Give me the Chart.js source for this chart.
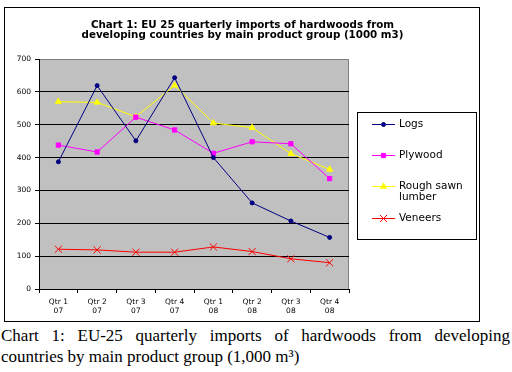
<!DOCTYPE html>
<html>
<head>
<meta charset="utf-8">
<script src="https://cdn.jsdelivr.net/npm/chart.js@4/dist/chart.umd.min.js"></script>
<style>
  body { margin: 0; background: #fff; width: 512px; height: 372px; position: relative; overflow: hidden; }
  #box { position: absolute; left: 4px; top: 7px; width: 474px; height: 313px; border: 1px solid #000; }
  #chart { display: block; }
  .cap { position: absolute; left: 1px; width: 509px; font-family: "Liberation Serif", "Times New Roman", serif; font-size: 17px; color: #000; white-space: nowrap; }
  #cap1 { top: 326px; text-align: justify; text-align-last: justify; white-space: normal; }
  #cap2 { top: 347px; }
</style>
</head>
<body>
<div id="box"><canvas id="chart" width="474" height="313"></canvas></div>
<div class="cap" id="cap1">Chart 1: EU-25 quarterly imports of hardwoods from developing</div>
<div class="cap" id="cap2">countries by main product group (1,000 m³)</div>
<script>
// chart data
const categories = [['Qtr 1', '07'], ['Qtr 2', '07'], ['Qtr 3', '07'], ['Qtr 4', '07'],
                    ['Qtr 1', '08'], ['Qtr 2', '08'], ['Qtr 3', '08'], ['Qtr 4', '08']];
const logs = [387, 619, 451, 643, 400, 262, 207, 157];
const plywood = [438, 417, 523, 484, 413, 448, 442, 336];
const roughSawn = [570, 568, 524, 620, 505, 491, 412, 364];
const veneers = [121, 119, 112, 112, 128, 114, 92, 80];
const yMin = 0, yMax = 700, yStep = 100;
const titleLines = ['Chart 1: EU 25 quarterly imports of hardwoods from',
                    'developing countries by main product group (1000 m3)'];

const font = 'DejaVu Sans';

function series(label, data, color, style, radius) {
    return {
        label, data,
        borderColor: color, backgroundColor: color,
        borderWidth: 1, pointStyle: style, pointRadius: radius,
        pointBorderWidth: 1,
        tension: 0
    };
}

// grey plot area + border
const plotBg = {
    id: 'plotBg',
    beforeDraw(chart) {
        const { ctx, chartArea: a } = chart;
        ctx.save();
        ctx.fillStyle = '#C0C0C0';
        ctx.fillRect(a.left, a.top, a.right - a.left, a.bottom - a.top);
        ctx.strokeStyle = '#808080';
        ctx.lineWidth = 1;
        ctx.beginPath();
        ctx.moveTo(a.left, a.top + 0.5);
        ctx.lineTo(a.right - 0.5, a.top + 0.5);
        ctx.lineTo(a.right - 0.5, a.bottom);
        ctx.stroke();
        ctx.restore();
    }
};

// title and boxed legend
const extras = {
    id: 'extras',
    afterDraw(chart) {
        const ctx = chart.ctx;
        ctx.save();
        ctx.fillStyle = '#000';
        ctx.textAlign = 'center';
        ctx.textBaseline = 'middle';
        ctx.font = 'bold 10.3px ' + font;
        ctx.fillText(titleLines[0], 237.5, 17);
        ctx.fillText(titleLines[1], 237.5, 27.5);

        ctx.strokeStyle = '#000';
        ctx.lineWidth = 1;
        ctx.strokeRect(352.5, 104.5, 119, 127);

        const rows = [116, 147, 178, 210];
        ctx.textAlign = 'left';
        ctx.font = '10.5px ' + font;
        chart.data.datasets.forEach((ds, i) => {
            const y = rows[i];
            ctx.strokeStyle = ds.borderColor;
            ctx.fillStyle = ds.backgroundColor;
            ctx.beginPath();
            ctx.moveTo(367, y + 0.5);
            ctx.lineTo(390, y + 0.5);
            ctx.stroke();
            Chart.helpers.drawPoint(ctx, { pointStyle: ds.pointStyle, radius: ds.pointRadius, rotation: 0, borderWidth: 1 }, 378.5, y + 0.5);
            ctx.fillStyle = '#000';
            const parts = ds.label.split('\n');
            parts.forEach((p, j) => ctx.fillText(p, 394, y + j * 11));
        });
        ctx.restore();
    }
};

new Chart(document.getElementById('chart'), {
    type: 'line',
    data: {
        labels: categories,
        datasets: [
            series('Logs', logs, '#000080', 'circle', 2),
            series('Plywood', plywood, '#FF00FF', 'rect', 3),
            series('Rough sawn\nlumber', roughSawn, '#FFFF00', 'triangle', 3.5),
            series('Veneers', veneers, '#FF0000', 'crossRot', 5)
        ]
    },
    options: {
        responsive: false,
        animation: false,
        layout: { padding: { top: 51, right: 130, left: 0, bottom: 0 } },
        plugins: { legend: { display: false }, title: { display: false }, tooltip: { enabled: false } },
        scales: {
            x: {
                offset: true,
                grid: { drawOnChartArea: false, offset: true, color: '#000', tickLength: 4 },
                border: { color: '#000' },
                ticks: { color: '#000', font: { family: font, size: 7.5 }, padding: 5, maxRotation: 0, autoSkip: false },
                afterFit(s) { s.height = 32; }
            },
            y: {
                min: yMin, max: yMax,
                grid: { color: ctx => ctx.tick && ctx.tick.value === yMax ? '#808080' : '#000', tickColor: '#000', tickLength: 4 },
                border: { color: '#000' },
                ticks: { stepSize: yStep, color: '#000', font: { family: font, size: 7.5 }, padding: 4 },
                afterFit(s) { s.width = 34; }
            }
        }
    },
    plugins: [plotBg, extras]
});
</script>
</body>
</html>
